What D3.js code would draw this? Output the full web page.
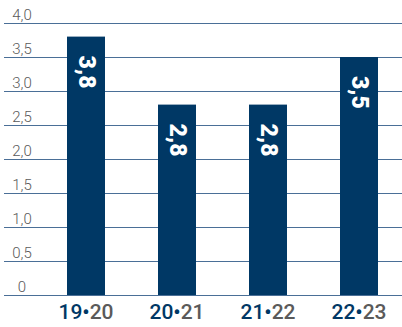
<!DOCTYPE html>
<html>
<head>
<meta charset="utf-8">
<script src="https://cdn.jsdelivr.net/npm/d3@7/dist/d3.min.js"></script>
<style>
  html, body { margin: 0; padding: 0; background: #fff; }
  svg { display: block; }
</style>
</head>
<body>
<svg id="chart" width="402" height="327"></svg>
<script>
// Seasons and their values
const seasonsFirst = ["19", "20", "21", "22"];
const seasonsSecond = ["20", "21", "22", "23"];
const values = [3.8, 2.8, 2.8, 3.5];
const tickValues = [0, 0.5, 1.0, 1.5, 2.0, 2.5, 3.0, 3.5, 4.0];

const BLUE = "#003865";
const GRID = "#4a6f97";
const GREY = "#5a5a5a";

const svg = d3.select("#chart");
const W = 402;

const fmt = v => v === 0 ? "0" : d3.format(".1f")(v).replace(".", ",");

const y = d3.scaleLinear().domain([0, 4]).range([295, 23]);
const x = d3.scaleBand()
  .domain(d3.range(values.length))
  .range([40.5, 404.5])
  .paddingInner(0.5824)
  .paddingOuter(0.2912);

// Horizontal gridlines with their labels
const grid = svg.append("g");
grid.selectAll("line").data(tickValues).join("line")
  .attr("x1", 4).attr("x2", W)
  .attr("y1", d => Math.round(y(d)) + 0.5)
  .attr("y2", d => Math.round(y(d)) + 0.5)
  .attr("stroke", GRID).attr("stroke-width", 1);
grid.selectAll("text").data(tickValues).join("text")
  .attr("x", 22).attr("y", d => Math.round(y(d)) - 3)
  .attr("text-anchor", "middle")
  .attr("font-family", "Roboto, sans-serif")
  .attr("font-weight", 300)
  .attr("font-size", 15)
  .attr("fill", GREY)
  .text(fmt);

// Bars
svg.append("g").selectAll("rect").data(values).join("rect")
  .attr("x", (d, i) => x(i))
  .attr("y", d => y(d))
  .attr("width", x.bandwidth())
  .attr("height", d => y(0) - y(d))
  .attr("fill", BLUE);

// Value labels, rotated inside the bars
svg.append("g").selectAll("text").data(values).join("text")
  .attr("transform", (d, i) => `translate(${x(i) + x.bandwidth() / 2},${y(d) + 19}) rotate(90)`)
  .attr("text-anchor", "start")
  .attr("dominant-baseline", "central")
  .attr("font-family", "Roboto, sans-serif")
  .attr("font-weight", 900)
  .attr("font-size", 23)
  .attr("fill", "#fff")
  .text(d => fmt(d));

// Season labels under the axis
const xl = svg.append("g").selectAll("text").data(values).join("text")
  .attr("x", (d, i) => x(i) + x.bandwidth() / 2)
  .attr("y", 319)
  .attr("text-anchor", "middle")
  .attr("font-family", "Roboto, sans-serif")
  .attr("font-weight", 500)
  .attr("font-size", 21);
xl.append("tspan").attr("fill", BLUE).text((d, i) => seasonsFirst[i] + "•");
xl.append("tspan").attr("fill", GREY).text((d, i) => seasonsSecond[i]);
</script>
</body>
</html>
